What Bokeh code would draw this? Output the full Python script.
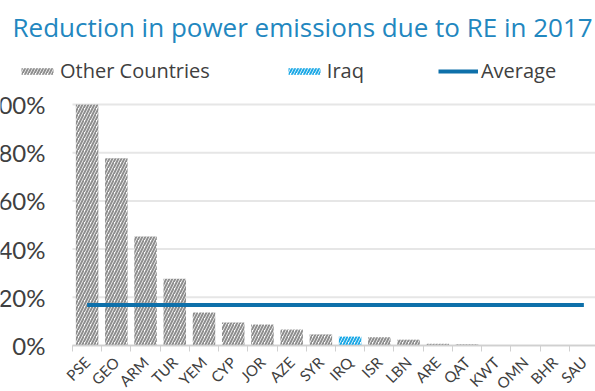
from bokeh.plotting import figure
from bokeh.models import (ColumnDataSource, Range1d, FixedTicker, NumeralTickFormatter,
                          Legend, LegendItem)
from bokeh.embed import file_html
from bokeh.resources import INLINE
import math

# ---- data ----
countries = ["PSE", "GEO", "ARM", "TUR", "YEM", "CYP", "JOR", "AZE", "SYR",
             "IRQ", "ISR", "LBN", "ARE", "QAT", "KWT", "OMN", "BHR", "SAU"]
reduction = [1.00, 0.777, 0.452, 0.277, 0.137, 0.095, 0.087, 0.066, 0.046,
             0.037, 0.034, 0.024, 0.007, 0.005, 0.0, 0.0, 0.0, 0.0]
average = 0.168
highlight = "IRQ"
y_ticks = [0, 0.2, 0.4, 0.6, 0.8, 1.0]
title_text = "Reduction in power emissions due to RE in 2017"
legend_labels = ["Other Countries", "Iraq", "Average"]

# ---- build sources ----
n = len(countries)
idx = list(range(n))
other = dict(x=[], top=[])
hl = dict(x=[], top=[])
for i, c, v in zip(idx, countries, reduction):
    d = hl if c == highlight else other
    d["x"].append(i)
    d["top"].append(v)
src_other = ColumnDataSource(other)
src_hl = ColumnDataSource(hl)
src_avg = ColumnDataSource(dict(x=[idx[0], idx[-1]], y=[average, average]))
src_grid = ColumnDataSource(dict(x0=[idx[0] - 0.5] * len(y_ticks),
                                 x1=[idx[-1] + 0.5] * len(y_ticks),
                                 y=y_ticks))

FONT = "Lato"
TXT = "#404040"

p = figure(width=595, height=391, output_backend="svg", toolbar_location=None,
           x_range=Range1d(-2.964, 17.398), y_range=Range1d(-0.191, 1.245),
           title=title_text)
p.outline_line_color = None
p.background_fill_color = "white"
p.border_fill_color = "white"
p.min_border_left = 0
p.min_border_right = 0
p.min_border_bottom = 0
p.min_border_top = 45

p.title.text_font = "Open Sans"
p.title.text_font_size = "26px"
p.title.text_font_style = "normal"
p.title.text_color = "#2287BF"
p.title.offset = 12
p.title.standoff = 2

p.xgrid.grid_line_color = None
p.ygrid.grid_line_color = None
p.segment(x0="x0", x1="x1", y0="y", y1="y", source=src_grid,
          line_color="#E6E6E6", line_width=2)

r_other = p.vbar(x="x", top="top", width=0.77, source=src_other,
                 fill_color="white", line_color=None,
                 hatch_pattern="/", hatch_color="#8E8E8E", hatch_scale=6, hatch_weight=2)
r_hl = p.vbar(x="x", top="top", width=0.77, source=src_hl,
              fill_color="white", line_color=None,
              hatch_pattern="/", hatch_color="#1DA9E6", hatch_scale=6, hatch_weight=2)
r_avg = p.line(x="x", y="y", source=src_avg, line_color="#0E70AA", line_width=4)

# axes
p.xaxis.ticker = FixedTicker(ticks=idx, minor_ticks=[i - 0.5 for i in range(n + 1)])
p.xaxis.major_label_overrides = {i: c for i, c in zip(idx, countries)}
p.xaxis.major_label_orientation = math.pi / 4
p.xaxis.major_label_text_font = FONT
p.xaxis.major_label_text_font_size = "15px"
p.xaxis.major_label_text_color = TXT
p.xaxis.major_tick_line_color = None
p.xaxis.minor_tick_line_color = "#D0D0D0"
p.xaxis.minor_tick_out = 6
p.xaxis.minor_tick_in = 0
p.xaxis.axis_line_color = "#D0D0D0"
p.xaxis.axis_line_width = 1.5
p.xaxis.major_label_standoff = 8
p.xaxis.bounds = (idx[0] - 0.5, idx[-1] + 0.5)
p.xaxis.fixed_location = y_ticks[0]

p.yaxis.ticker = FixedTicker(ticks=y_ticks)
p.yaxis.formatter = NumeralTickFormatter(format="0%")
p.yaxis.major_label_text_font = FONT
p.yaxis.major_label_text_font_size = "24px"
p.yaxis.major_label_text_color = TXT
p.yaxis.axis_line_color = None
p.yaxis.major_tick_line_color = None
p.yaxis.minor_tick_line_color = None
p.yaxis.major_label_standoff = 21
p.yaxis.fixed_location = idx[0] - 0.5

legend = Legend(items=[LegendItem(label=legend_labels[0], renderers=[r_other]),
                       LegendItem(label=legend_labels[1], renderers=[r_hl]),
                       LegendItem(label=legend_labels[2], renderers=[r_avg])],
                orientation="horizontal", location=(17, 307))
legend.label_text_font = "Open Sans"
legend.label_text_font_size = "20px"
legend.label_text_color = TXT
legend.glyph_width = 40
legend.glyph_height = 8
legend.spacing = 74
legend.label_standoff = 3
legend.padding = 0
legend.margin = 0
legend.border_line_color = None
legend.background_fill_alpha = 0
legend.click_policy = "none"
p.add_layout(legend, "center")

open("out.html", "w").write(file_html(p, INLINE))
